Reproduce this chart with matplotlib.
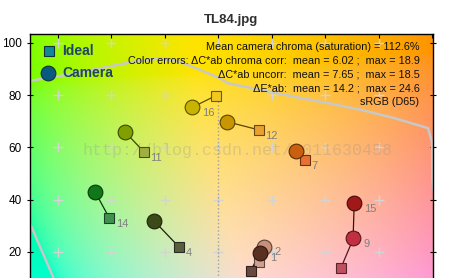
import numpy as np
import matplotlib
matplotlib.use('Agg')
import matplotlib.pyplot as plt

plt.rcParams['font.family'] = ['Liberation Sans', 'DejaVu Sans']

# data (a*, b*)
patch_ids = ['16', '12', '11', '7', '14', '4', '15', '9', '2', '1']
cam_a = [-9.7, 3.1, -34.9, 29.0, -46.0, -23.9, 50.8, 50.5, 17.2, 15.6]
cam_b = [75.4, 69.9, 66.0, 58.8, 42.9, 31.8, 38.6, 25.2, 22.0, 19.7]
ideal_a = [-1.0, 15.3, -27.7, 32.5, -40.7, -14.6, 50.4, 45.8, 15.1, 12.1]
ideal_b = [79.8, 66.7, 58.2, 55.1, 32.9, 21.8, 25.6, 13.8, 16.3, 12.8]
cam_col = ['#c8b400', '#c89600', '#80a000', '#c86010', '#107818',
           '#3c4a18', '#a01818', '#c03040', '#c89078', '#5a3020']
ideal_col = ['#f0c820', '#e8a030', '#a0b040', '#e87030', '#409050',
             '#586040', '#b02030', '#c05060', '#d0a090', '#6a4a40']
label_at = ['cam', 'ideal', 'ideal', 'ideal', 'ideal', 'ideal', 'cam', 'cam', 'cam', 'cam']

# sRGB gamut outline
gamut_top_a = [-75, -70.4, -56.7, -44.2, -31.9, -21.8, -14.3, -6.8, 0.6, 3.6, 16.0,
               28.6, 41.0, 53.3, 65.9, 78.4, 79.9, 80.1, 81.0]
gamut_top_b = [84.5, 85.5, 87.8, 90.3, 92.8, 94.1, 92.8, 89.7, 86.5, 84.6, 82.0,
               79.4, 77.0, 74.4, 71.2, 67.4, 62.0, 47.0, 40.0]
gamut_low_a = [-72.0, -69.8, -61.7, -58.0]
gamut_low_b = [34.0, 29.5, 10.3, 2.0]

info_lines = ['Mean camera chroma (saturation) = 112.6%',
              'Color errors: \u0394C*ab chroma corr:  mean = 6.02 ;  max = 18.9',
              '\u0394C*ab uncorr:  mean = 7.65 ;  max = 18.5',
              '\u0394E*ab:  mean = 14.2 ;  max = 24.6',
              'sRGB (D65)']

xlim = (-70.4, 80.26)
ylim = (-0.6, 103.44)


def lab2rgb(L, a, b):
    fy = (L + 16) / 116.0
    fx = fy + a / 500.0
    fz = fy - b / 200.0
    def finv(t):
        return np.where(t > 6 / 29., t ** 3, 3 * (6 / 29.) ** 2 * (t - 4 / 29.))
    X = 0.9505 * finv(fx)
    Y = finv(fy)
    Z = 1.089 * finv(fz)
    r = 3.2406 * X - 1.5372 * Y - 0.4986 * Z
    g = -0.9689 * X + 1.8758 * Y + 0.0415 * Z
    bb = 0.0557 * X - 0.2040 * Y + 1.0570 * Z
    rgb = np.clip(np.stack([r, g, bb], axis=-1), 0, 1)
    rgb = np.where(rgb <= 0.0031308, 12.92 * rgb, 1.055 * rgb ** (1 / 2.4) - 0.055)
    return np.clip(rgb, 0, 1)


def darker(c, f=0.5):
    r, g, b = matplotlib.colors.to_rgb(c)
    return (r * f, g * f, b * f)


fig = plt.figure(figsize=(4.56, 2.78), dpi=100)
ax = fig.add_axes([30 / 456., -27.8 / 278., 403 / 456., 271.8 / 278.])

aa, bg = np.meshgrid(np.linspace(xlim[0], xlim[1], 300), np.linspace(ylim[0], ylim[1], 200))
ax.imshow(lab2rgb(90.0, aa, bg), extent=[xlim[0], xlim[1], ylim[0], ylim[1]],
          origin='lower', aspect='auto', zorder=0, interpolation='bilinear')

# grid crosses
gx, gy = np.meshgrid(np.arange(-60, 61, 20), np.arange(0, 101, 20))
ax.plot(gx.ravel(), gy.ravel(), '+', color='#d4d4d4', ms=7, mew=1.0, zorder=1)
ax.plot([0, 0], [ylim[0], 79], ':', color='#a0a0a0', lw=1.0, zorder=1)

ax.plot(gamut_top_a, gamut_top_b, color='#c8c8c8', lw=1.8, zorder=2)
ax.plot(gamut_low_a, gamut_low_b, color='#c8c8c8', lw=1.8, zorder=2)

ax.text(7.0, 59, 'http://blog.csdn.net/u011630458',
        family='Liberation Mono', fontsize=12.1, color='#909090', alpha=0.28,
        ha='center', va='center', zorder=3)

for i in range(len(patch_ids)):
    ax.plot([cam_a[i], ideal_a[i]], [cam_b[i], ideal_b[i]], '-',
            color=darker(cam_col[i], 0.45), lw=0.9, zorder=4)
for i in range(len(patch_ids)):
    ax.plot(ideal_a[i], ideal_b[i], 's', ms=6.5, mfc=ideal_col[i],
            mec=darker(ideal_col[i], 0.45), mew=0.8, zorder=5)
for i in range(len(patch_ids)):
    ax.plot(cam_a[i], cam_b[i], 'o', ms=10.6, mfc=cam_col[i],
            mec=darker(cam_col[i], 0.45), mew=0.8, zorder=6)
for i in range(len(patch_ids)):
    if label_at[i] == 'cam':
        px, py, off = cam_a[i], cam_b[i], 7.0
    else:
        px, py, off = ideal_a[i], ideal_b[i], 4.5
    ax.annotate(patch_ids[i], (px, py), xytext=(off, -4), textcoords='offset points',
                ha='left', va='center', fontsize=8, color='#808080', zorder=7)

# legend
ax.plot(-63.2, 96.9, 's', ms=7, mfc='#108898', mec='#103040', mew=0.8, zorder=8)
ax.plot(-63.6, 88.5, 'o', ms=10.6, mfc='#0a5a80', mec='#103040', mew=0.8, zorder=8)
ax.text(-58.3, 96.9, 'Ideal', fontsize=10, fontweight='bold', color='#1e4664',
        va='center', ha='left', zorder=8)
ax.text(-58.3, 88.5, 'Camera', fontsize=10, fontweight='bold', color='#1e4664',
        va='center', ha='left', zorder=8)

for k, line in enumerate(info_lines):
    ax.text(75.2, 98.5 - k * 5.26, line, fontsize=7.8, color='#101010',
            ha='right', va='center', zorder=8)

ax.set_xlim(xlim)
ax.set_ylim(ylim)
ax.set_xticks(np.arange(-60, 81, 20))
ax.set_yticks(np.arange(20, 101, 20))
ax.tick_params(axis='x', top=True, bottom=False, labelbottom=False, direction='in', length=3)
ax.tick_params(axis='y', left=True, right=True, direction='inout', length=5, labelsize=8.5)
for s in ax.spines.values():
    s.set_linewidth(1.0)

fig.text(231 / 456., 1 - 20 / 278., 'TL84.jpg', fontsize=9.5, fontweight='bold',
         color='#303030', ha='center', va='center')

fig.savefig('out.png', dpi=100)
